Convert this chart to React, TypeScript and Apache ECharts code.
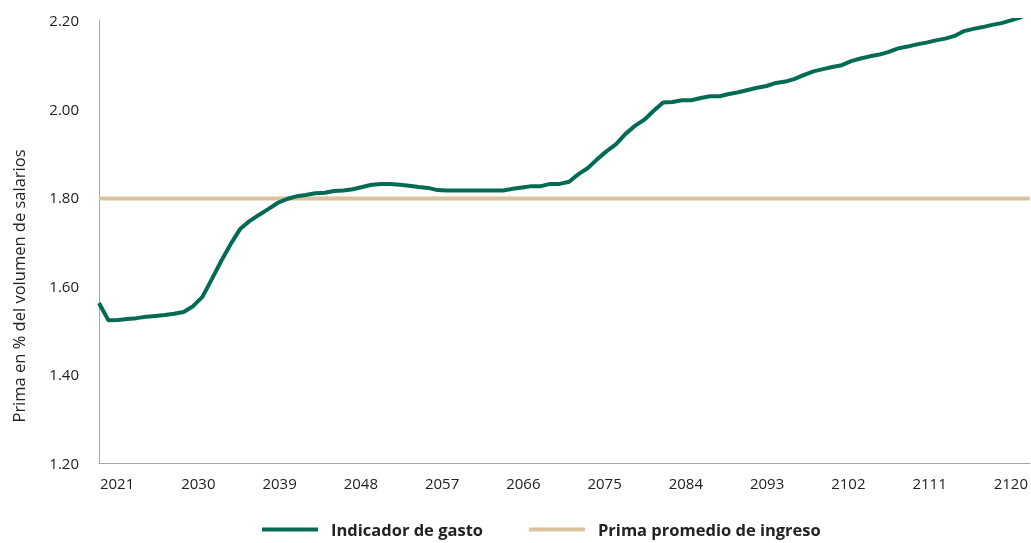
import React, { useEffect, useRef } from "react";
import * as echarts from "echarts";

const years: string[] = Array.from({ length: 100 }, (_, i) => String(2021 + i));

const gasto: number[] = [
  1.561, 1.522, 1.523, 1.525, 1.527, 1.530, 1.532, 1.534, 1.537, 1.541,
  1.554, 1.575, 1.615, 1.656, 1.694, 1.728, 1.746, 1.760, 1.773, 1.787,
  1.796, 1.802, 1.805, 1.809, 1.810, 1.814, 1.815, 1.818, 1.823, 1.828,
  1.830, 1.830, 1.828, 1.826, 1.823, 1.821, 1.816, 1.815, 1.815, 1.815,
  1.815, 1.815, 1.815, 1.815, 1.819, 1.822, 1.825, 1.825, 1.830, 1.830,
  1.835, 1.852, 1.866, 1.886, 1.904, 1.920, 1.943, 1.961, 1.975, 1.995,
  2.014, 2.015, 2.019, 2.019, 2.024, 2.028, 2.028, 2.033, 2.037, 2.042,
  2.047, 2.051, 2.058, 2.061, 2.067, 2.076, 2.084, 2.089, 2.094, 2.098,
  2.107, 2.113, 2.118, 2.122, 2.128, 2.136, 2.140, 2.145, 2.149, 2.154,
  2.158, 2.164, 2.175, 2.180, 2.184, 2.189, 2.193, 2.199, 2.206, 2.216,
];

const primaPromedio = 1.797;

const tickYears: number[] = [2021, 2030, 2039, 2048, 2057, 2066, 2075, 2084, 2093, 2102, 2111, 2120];

const seriesNames = ["Indicador de gasto", "Prima promedio de ingreso"];
const yAxisTitle = "Prima en % del volumen de salarios";

const FONT = "'Open Sans', 'Noto Sans', sans-serif";
const GREEN = "#036b53";
const TAN = "#d8c39c";
const AXIS = "#a6a6a6";

export default function App() {
  const ref = useRef<HTMLDivElement>(null);

  useEffect(() => {
    if (!ref.current) return;
    const chart = echarts.init(ref.current, undefined, { renderer: "svg" });
    chart.setOption({
      animation: false,
      textStyle: { fontFamily: FONT },
      grid: { left: 99, right: 0, top: 20, bottom: 80, containLabel: false },
      legend: {
        left: 262,
        top: 521,
        padding: 0,
        icon: "rect",
        itemWidth: 56,
        itemHeight: 4,
        itemGap: 46,
        textStyle: {
          fontFamily: FONT,
          fontSize: 16.5,
          fontWeight: "bold",
          color: "#222",
          padding: [0, 0, 0, 8],
        },
        data: seriesNames,
      },
      xAxis: [
        {
          type: "category",
          data: years,
          boundaryGap: false,
          position: "bottom",
          axisLine: { show: true, lineStyle: { color: AXIS, width: 1 } },
          axisTick: { show: false },
          axisLabel: { show: false },
          splitLine: { show: false },
        },
        {
          type: "value",
          position: "bottom",
          min: 2019.0,
          max: 2122.1,
          axisLine: { show: false, onZero: false },
          axisTick: { show: false },
          splitLine: { show: false },
          axisLabel: {
            customValues: tickYears,
            formatter: (v: number) => String(Math.round(v)),
            fontFamily: FONT,
            fontSize: 15,
            color: "#222",
            margin: 12,
          },
        },
      ],
      yAxis: {
        type: "value",
        min: 1.2,
        max: 2.2,
        interval: 0.2,
        axisLine: { show: true, lineStyle: { color: AXIS, width: 1 } },
        axisTick: { show: false },
        splitLine: { show: false },
        axisLabel: {
          formatter: (v: number) => v.toFixed(2),
          fontFamily: FONT,
          fontSize: 15,
          color: "#222",
          margin: 20,
        },
      },
      graphic: [
        {
          type: "text",
          x: 18,
          y: 286,
          rotation: Math.PI / 2,
          style: {
            text: yAxisTitle,
            fontFamily: FONT,
            fontSize: 16.5,
            fill: "#222",
            textAlign: "center",
            textVerticalAlign: "middle",
          },
        },
      ],
      series: [
        {
          name: seriesNames[0],
          type: "line",
          xAxisIndex: 0,
          data: gasto,
          symbol: "none",
          lineStyle: { color: GREEN, width: 4 },
          itemStyle: { color: GREEN },
          z: 3,
        },
        {
          name: seriesNames[1],
          type: "line",
          xAxisIndex: 0,
          data: [
            [years[0], primaPromedio],
            [years[years.length - 1], primaPromedio],
          ],
          symbol: "none",
          lineStyle: { color: TAN, width: 4 },
          itemStyle: { color: TAN },
          z: 2,
        },
      ],
    });
    return () => chart.dispose();
  }, []);

  return (
    <div
      ref={ref}
      style={{ position: "fixed", left: 0, top: 0, width: 1031, height: 543 }}
    />
  );
}
